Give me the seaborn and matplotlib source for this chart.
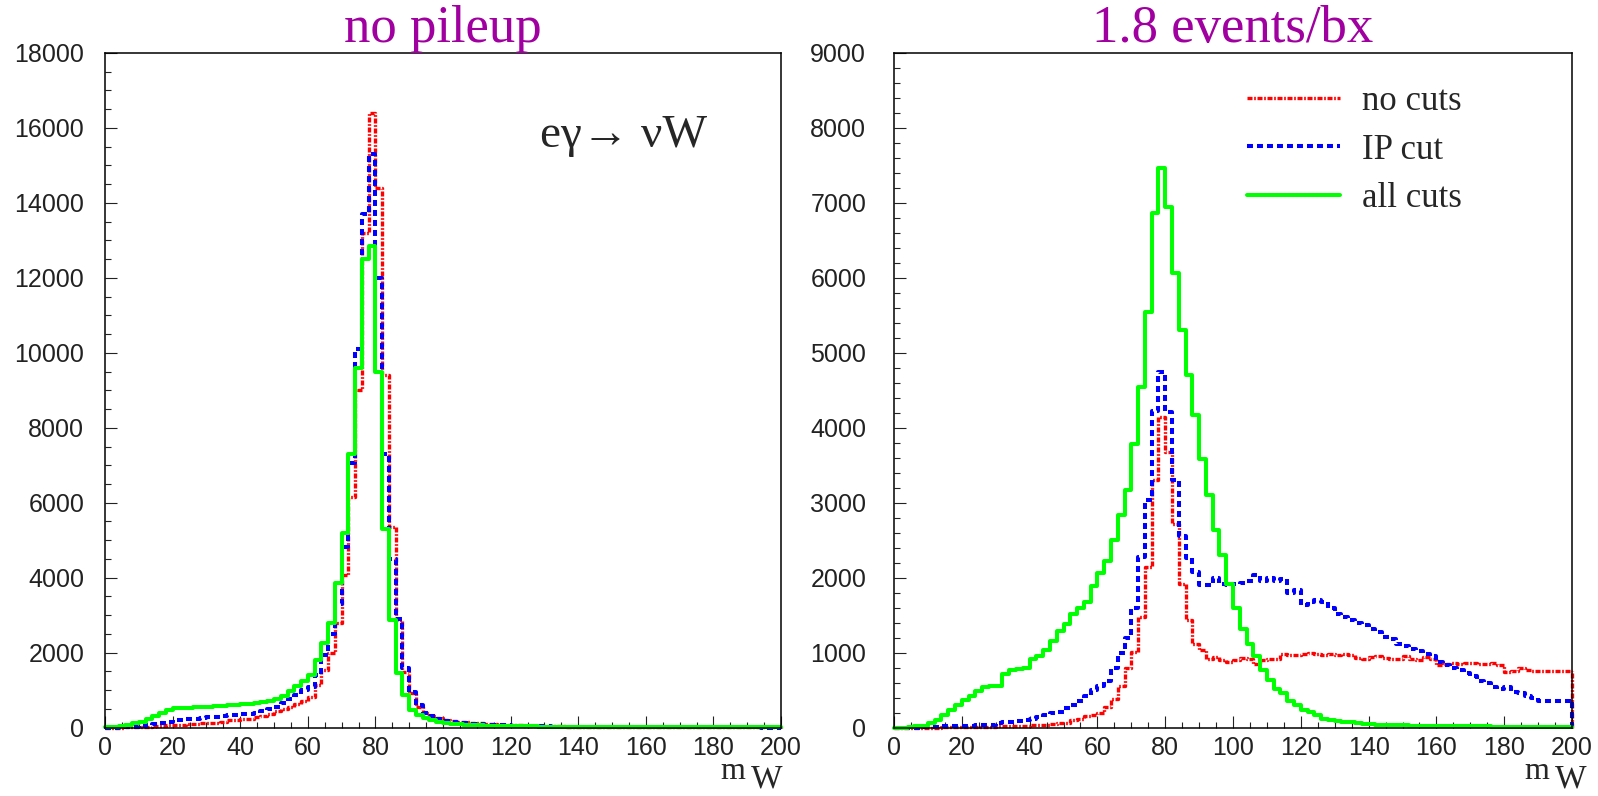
import numpy as np
import matplotlib
matplotlib.use("Agg")
import matplotlib.pyplot as plt
from matplotlib.ticker import MultipleLocator
import seaborn as sns

# ---------------- data (bin contents, 100 bins of width 2 GeV from 0 to 200) -------------
bin_edges = list(range(0, 201, 2))
bin_centers = [e + 1 for e in bin_edges[:-1]]

# left panel: no pileup
left_no_cuts = [0, 0, 0, 5, 5, 10, 20, 40, 55, 60,
                65, 75, 85, 95, 110, 120, 135, 150, 190, 200,
                220, 240, 280, 320, 360, 430, 500, 560, 620, 720,
                820, 1140, 1550, 1980, 2800, 4070, 6160, 9000, 13200, 16400,
                14400, 9400, 5360, 2870, 1490, 910, 550, 400, 300, 250,
                210, 180, 160, 140, 125, 110, 100, 90, 80, 72,
                65, 58, 52, 47, 42, 38, 35, 32, 29, 26,
                24, 22, 20, 18, 17, 16, 15, 14, 13, 12,
                11, 10, 10, 9, 9, 8, 8, 7, 7, 6,
                6, 5, 5, 5, 4, 4, 4, 3, 3, 3]
left_ip_cut = [0, 0, 5, 10, 15, 30, 60, 100, 130, 150,
               190, 210, 220, 240, 260, 270, 290, 310, 330, 340,
               360, 370, 400, 440, 500, 550, 650, 760, 880, 1000,
               1090, 1400, 1950, 2510, 3310, 4830, 7050, 10100, 13700, 15300,
               12000, 7300, 4500, 2900, 1600, 950, 600, 400, 300, 220,
               180, 150, 130, 115, 100, 90, 80, 72, 65, 58,
               52, 47, 42, 38, 35, 32, 29, 26, 24, 22,
               20, 18, 16, 15, 14, 13, 12, 11, 10, 9,
               9, 8, 8, 7, 7, 6, 6, 5, 5, 5,
               4, 4, 4, 3, 3, 3, 3, 2, 2, 2]
left_all_cuts = [10, 20, 40, 70, 110, 160, 220, 300, 380, 460,
                 510, 525, 530, 540, 550, 560, 570, 585, 595, 610,
                 620, 635, 650, 670, 700, 750, 830, 980, 1100, 1250,
                 1400, 1800, 2260, 2800, 3850, 5200, 7300, 9600, 12500, 12850,
                 9500, 5300, 2870, 1450, 870, 470, 340, 250, 190, 150,
                 120, 100, 90, 80, 70, 60, 55, 50, 45, 40,
                 38, 35, 32, 30, 28, 26, 24, 22, 20, 19,
                 18, 17, 16, 15, 14, 13, 12, 12, 11, 10,
                 10, 9, 9, 8, 8, 7, 7, 6, 6, 6,
                 5, 5, 5, 4, 4, 4, 3, 3, 3, 3]

# right panel: 1.8 events/bx
right_no_cuts = [0, 0, 0, 0, 0, 0, 0, 5, 5, 5,
                 5, 5, 10, 10, 10, 15, 15, 20, 20, 25,
                 30, 35, 35, 45, 55, 60, 100, 120, 150, 170,
                 200, 280, 380, 560, 800, 1010, 1480, 2140, 3300, 4150,
                 3680, 2720, 1920, 1430, 1120, 1030, 920, 940, 900, 880,
                 900, 930, 910, 850, 900, 910, 910, 980, 970, 970,
                 980, 1000, 980, 970, 980, 970, 985, 970, 930, 920,
                 940, 960, 930, 920, 910, 950, 920, 900, 940, 920,
                 840, 850, 860, 850, 860, 860, 855, 850, 860, 830,
                 740, 760, 790, 770, 760, 760, 760, 750, 750, 750]
right_ip_cut = [0, 0, 0, 0, 5, 10, 10, 15, 20, 20,
                25, 25, 30, 30, 40, 60, 70, 80, 90, 100,
                110, 140, 170, 190, 210, 260, 300, 360, 420, 500,
                550, 620, 800, 1000, 1200, 1600, 2280, 3030, 4230, 4750,
                4210, 3300, 2550, 2260, 2080, 1900, 1900, 2000, 1920, 1900,
                1920, 1930, 1960, 2030, 1960, 2000, 1960, 1980, 1800, 1840,
                1630, 1680, 1700, 1680, 1600, 1520, 1480, 1440, 1390, 1370,
                1320, 1270, 1210, 1180, 1110, 1090, 1050, 1020, 980, 950,
                880, 830, 790, 770, 730, 690, 620, 600, 540, 510,
                540, 470, 460, 420, 390, 360, 360, 350, 350, 350]
right_all_cuts = [0, 0, 10, 15, 25, 60, 100, 170, 240, 300,
                  370, 420, 490, 540, 555, 560, 710, 770, 780, 800,
                  920, 950, 1040, 1150, 1290, 1380, 1520, 1590, 1680, 1890,
                  2060, 2220, 2500, 2830, 3170, 3780, 4540, 5550, 6870, 7460,
                  6940, 6070, 5310, 4700, 4170, 3590, 3100, 2630, 2300, 1920,
                  1590, 1310, 1110, 950, 770, 630, 520, 460, 350, 300,
                  240, 210, 170, 120, 100, 90, 80, 70, 60, 50,
                  45, 40, 38, 35, 33, 30, 28, 26, 25, 24,
                  22, 21, 20, 19, 18, 17, 16, 15, 14, 14,
                  13, 12, 12, 11, 10, 10, 9, 9, 8, 8]

series_labels = ["no cuts", "IP cut", "all cuts"]
panel_titles = ["no pileup", "1.8 events/bx"]
left_yticks = list(range(0, 18001, 2000))
right_yticks = list(range(0, 9001, 1000))
xticks = list(range(0, 201, 20))

# ---------------- style -------------
sns.set_style("white")
plt.rcParams["font.family"] = ["Liberation Sans", "DejaVu Sans"]
plt.rcParams["lines.scale_dashes"] = False
SERIF = ["Liberation Serif", "DejaVu Serif"]
PURPLE = "#a000a0"

styles = [
    dict(color="#ff0000", linewidth=2.4, dashes=(3.6, 1.2, 1.2, 1.2)),
    dict(color="#0000ff", linewidth=2.9, dashes=(4.3, 2.9)),
    dict(color="#00ff00", linewidth=2.9, dashes=None),
]

fig = plt.figure(figsize=(15.98, 7.96), dpi=100)
axL = fig.add_axes([105 / 1598, 68.4 / 796, 676 / 1598, 674.6 / 796])
axR = fig.add_axes([894 / 1598, 68.4 / 796, 678 / 1598, 674.6 / 796])


def draw_panel(ax, series, ymax, yticks, yminor, ypad):
    for vals, st in zip(series, styles):
        kw = dict(color=st["color"], linewidth=st["linewidth"])
        if st["dashes"] is not None:
            kw["dashes"] = st["dashes"]
        sns.histplot(x=bin_centers, weights=vals, bins=bin_edges, element="step",
                     fill=False, ax=ax, clip_on=False, **kw)
        # closing edge of the histogram outline at the last bin edge
        vkw = dict(colors=st["color"], linewidth=st["linewidth"], clip_on=False)
        if st["dashes"] is not None:
            vkw["linestyles"] = [(0, st["dashes"])]
        ax.vlines(bin_edges[-1], 0, vals[-1], **vkw)
    ax.set_xlim(0, 200)
    ax.set_ylim(0, ymax)
    ax.set_xticks(xticks)
    ax.set_yticks(yticks)
    ax.xaxis.set_minor_locator(MultipleLocator(5))
    ax.yaxis.set_minor_locator(MultipleLocator(yminor))
    ax.set_xlabel("")
    ax.set_ylabel("")
    ax.tick_params(which="both", direction="in", top=False, right=False,
                   bottom=True, left=True, colors="#222222", labelsize=18)
    ax.tick_params(which="major", length=8.5, width=0.8)
    ax.tick_params(which="minor", length=4.3, width=0.8)
    ax.tick_params(axis="x", which="major", pad=6)
    ax.tick_params(axis="y", which="major", pad=ypad)
    for sp in ax.spines.values():
        sp.set_visible(True)
        sp.set_color("black")
        sp.set_linewidth(1.1)


draw_panel(axL, [left_no_cuts, left_ip_cut, left_all_cuts], 18000, left_yticks, 500, 15)
draw_panel(axR, [right_no_cuts, right_ip_cut, right_all_cuts], 9000, right_yticks, 200, 20)

for ax, t in zip([axL, axR], panel_titles):
    ax.set_title(t, fontsize=38, color=PURPLE, family=SERIF, pad=6)

axL.text(0.643, 0.861, "eγ→ νW", transform=axL.transAxes, fontsize=34,
         family=SERIF, va="baseline", ha="left")

axR.legend(axR.lines[:3], series_labels, loc="upper left",
           bbox_to_anchor=(0.5206, 0.9526), frameon=False,
           prop={"family": SERIF, "size": 25}, handlelength=2.68,
           handletextpad=0.63, labelspacing=0.45, borderpad=0, borderaxespad=0)

# axis label m_W at the bottom right of each panel
for mx, wx in [(720, 751), (1524, 1555)]:
    fig.text(mx / 1598, 1 - 779 / 796, "m", fontsize=23, family=SERIF, va="baseline")
    fig.text(wx / 1598, 1.5 / 796, "W", fontsize=24, family=SERIF, va="bottom")

fig.savefig("out.png", dpi=100)
